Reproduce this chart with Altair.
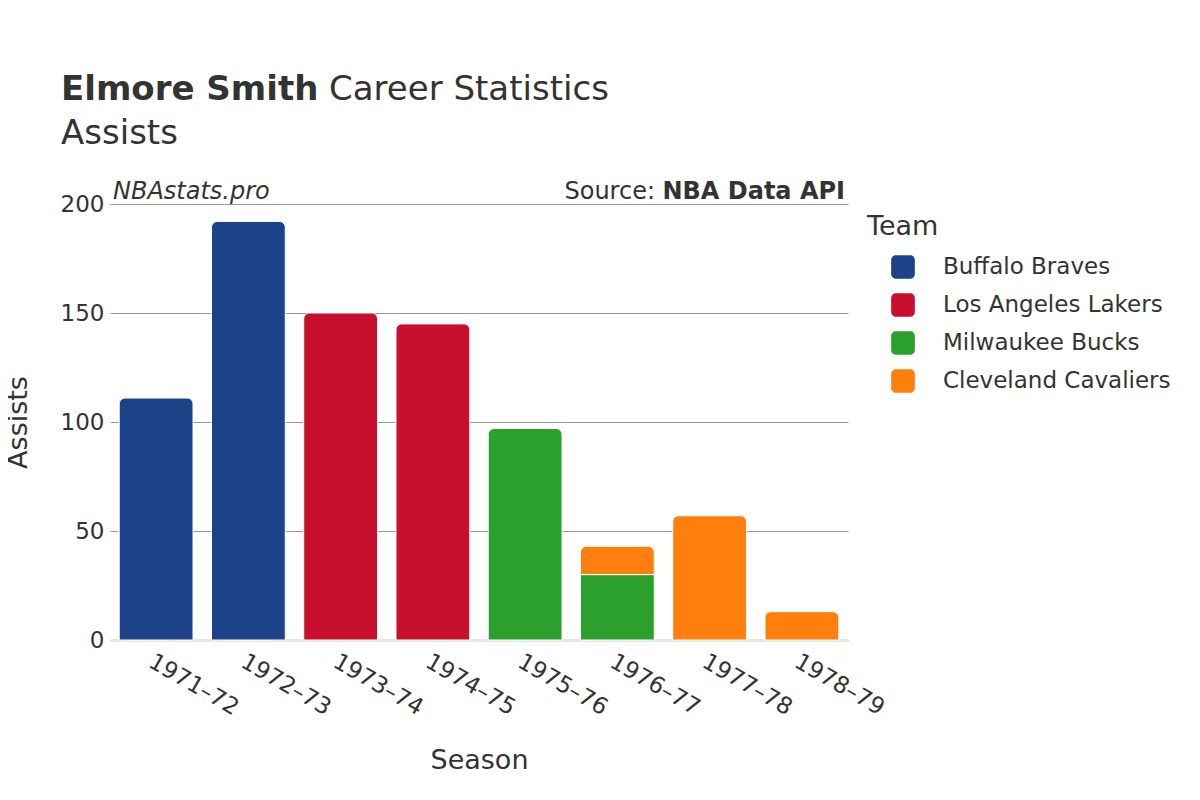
import altair as alt
import pandas as pd

seasons = ["1971–72", "1972–73", "1973–74", "1974–75", "1975–76", "1976–77", "1976–77", "1977–78", "1978–79"]
teams = ["Buffalo Braves", "Buffalo Braves", "Los Angeles Lakers", "Los Angeles Lakers",
         "Milwaukee Bucks", "Milwaukee Bucks", "Cleveland Cavaliers", "Cleveland Cavaliers", "Cleveland Cavaliers"]
assists = [111, 192, 150, 145, 97, 30, 13, 57, 13]

season_order = ["1971–72", "1972–73", "1973–74", "1974–75", "1975–76", "1976–77", "1977–78", "1978–79"]
team_order = ["Buffalo Braves", "Los Angeles Lakers", "Milwaukee Bucks", "Cleveland Cavaliers"]
team_colors = ["#1d428a", "#c8102e", "#2ca02c", "#ff7f0e"]

title_bold = ["Elmore Smith"]
title_rest = ["Career Statistics"]
subtitle = ["Assists"]
credit = ["NBAstats.pro"]
source_label = ["Source:"]
source_bold = ["NBA Data API"]

FONT = "DejaVu Sans"
TXT = "#333333"

df = pd.DataFrame({"season": seasons, "team": teams, "value": assists})
df["order"] = df["team"].map({t: i for i, t in enumerate(team_order)})

W, H = 738, 436

base = alt.Chart(df).transform_stack(
    stack="value", groupby=["season"], as_=["y0", "y1"], sort=[alt.SortField("order")]
).transform_joinaggregate(
    ymax="max(y1)", groupby=["season"]
).transform_calculate(
    is_top="datum.y1 == datum.ymax"
)

x_enc = alt.X("season:N", sort=season_order,
              scale=alt.Scale(domain=season_order, paddingInner=0.2, paddingOuter=0.1),
              axis=alt.Axis(title="Season", labelAngle=30, labelAlign="left", labelBaseline="top",
                            labelFontSize=23, labelColor=TXT, labelPadding=10,
                            titleFontSize=27, titleColor=TXT, titleFontWeight="normal", titlePadding=28,
                            ticks=False, domainColor="#e6e6e6", domainWidth=3, grid=False,
                            labelFont=FONT, titleFont=FONT))
y_enc = alt.Y("y1:Q", scale=alt.Scale(domain=[0, 200]),
              axis=alt.Axis(title="Assists", values=[0, 50, 100, 150, 200], labelFontSize=23,
                            labelColor=TXT, titleFontSize=27, titleColor=TXT, titleFontWeight="normal",
                            titlePadding=28, ticks=False, domain=False, gridColor="#999999",
                            gridWidth=1, labelPadding=6, labelFont=FONT, titleFont=FONT))
rounded_square = ("M -0.6 -1 H 0.6 A 0.4 0.4 0 0 1 1 -0.6 V 0.6 A 0.4 0.4 0 0 1 0.6 1 "
                  "H -0.6 A 0.4 0.4 0 0 1 -1 0.6 V -0.6 A 0.4 0.4 0 0 1 -0.6 -1 Z")
color_enc = alt.Color("team:N", scale=alt.Scale(domain=team_order, range=team_colors),
                      legend=alt.Legend(title="Team", orient="none", legendX=757, legendY=10,
                                        titleFontSize=27, titleColor=TXT, titleFontWeight="normal",
                                        labelFontSize=23, labelColor=TXT, symbolType=rounded_square,
                                        symbolSize=560, symbolStrokeWidth=0, rowPadding=14,
                                        labelOffset=28, padding=0, titlePadding=14, labelLimit=400,
                                        offset=0, labelFont=FONT, titleFont=FONT,
                                        symbolOffset=24))

bars_top = base.transform_filter("datum.is_top").mark_bar(
    cornerRadiusTopLeft=6, cornerRadiusTopRight=6, stroke="white", strokeWidth=1
).encode(x=x_enc, y=y_enc, y2="y0:Q", color=color_enc)

bars_rest = base.transform_filter("!datum.is_top").mark_bar(
    stroke="white", strokeWidth=1
).encode(x=x_enc, y=y_enc, y2="y0:Q", color=color_enc)


def label(txt, x, y, size, weight="normal", style="normal", align="left"):
    return alt.Chart(pd.DataFrame({"t": txt})).mark_text(
        font=FONT, fontSize=size, fontWeight=weight, fontStyle=style, align=align,
        baseline="alphabetic", color=TXT
    ).encode(x=alt.value(x), y=alt.value(y), text="t:N")


texts = [
    label(title_bold, -49, -104, 34, weight="bold"),
    label(title_rest, 219, -104, 34),
    label(subtitle, -49, -60, 34),
    label(credit, 3, -5, 24, style="italic"),
    label(source_bold, 735, -5, 24, weight="bold", align="right"),
    label(source_label, 545, -5, 24, align="right"),
]

chart = alt.layer(bars_rest, bars_top, *texts).properties(
    width=W, height=H,
    background="white",
    autosize=alt.AutoSizeParams(type="none"),
    padding={"left": 102, "top": 196, "right": 344, "bottom": 152},
).configure_view(stroke="transparent", strokeWidth=0)

chart.save("out.html", embed_options={"renderer": "svg", "actions": False})
